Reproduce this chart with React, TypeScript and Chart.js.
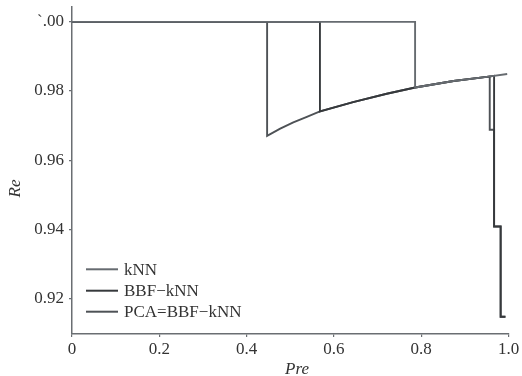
import React, { useEffect, useRef } from "react";
import { Chart, registerables } from "chart.js";

Chart.register(...registerables);

// Series: kNN
const knnPre = [0, 0.786, 0.786, 0.874, 0.95, 0.997];
const knnRe = [1.0, 1.0, 0.981, 0.9829, 0.9841, 0.9849];

// Series: BBF-kNN
const bbfPre = [0, 0.568, 0.568, 0.644, 0.721, 0.786, 0.874, 0.95, 0.967, 0.967, 0.982, 0.982, 0.993];
const bbfRe = [1.0, 1.0, 0.9741, 0.9768, 0.9792, 0.981, 0.9829, 0.9841, 0.9844, 0.9408, 0.9408, 0.9147, 0.9147];

// Series: PCA=BBF-kNN
const pcaPre = [0, 0.447, 0.447, 0.477, 0.507, 0.538, 0.568, 0.644, 0.721, 0.786, 0.874, 0.95, 0.957, 0.957, 0.967, 0.967, 0.982, 0.982, 0.993];
const pcaRe = [1.0, 1.0, 0.967, 0.9691, 0.9709, 0.9725, 0.9741, 0.9768, 0.9792, 0.981, 0.9829, 0.9841, 0.9842, 0.9688, 0.9688, 0.9408, 0.9408, 0.9147, 0.9147];

const seriesNames = ["kNN", "BBF\u2212kNN", "PCA=BBF\u2212kNN"];
const seriesColors = ["#666b70", "#36393c", "#4e5256"];

const xTickValues = [0, 0.2, 0.4, 0.6, 0.8, 1.0];
const xTickLabels = ["0", "0.2", "0.4", "0.6", "0.8", "1.0"];
const yTickValues = [0.92, 0.94, 0.96, 0.98, 1.0];
const yTickLabels = ["0.92", "0.94", "0.96", "0.98", "`.00"];

const xTitle = "Pre";
const yTitle = "Re";

const FONT = "'Liberation Serif', 'Times New Roman', serif";
const AXIS_COLOR = "#6a6e72";
const TEXT_COLOR = "#333333";

const toPoints = (xs: number[], ys: number[]) => xs.map((x, i) => ({ x, y: ys[i] }));

const overlayPlugin = {
  id: "overlay",
  afterDraw(chart: any) {
    const { ctx, chartArea } = chart;
    ctx.save();
    // legend (inside plot area, bottom-left)
    const lx = chartArea.left + 14;
    const rows = [chartArea.bottom - 64.7, chartArea.bottom - 43.3, chartArea.bottom - 22.3];
    chart.data.datasets.forEach((ds: any, i: number) => {
      const y = rows[i];
      ctx.strokeStyle = ds.borderColor;
      ctx.lineWidth = 2;
      ctx.beginPath();
      ctx.moveTo(lx, y);
      ctx.lineTo(lx + 32, y);
      ctx.stroke();
      ctx.fillStyle = TEXT_COLOR;
      ctx.font = `17px ${FONT}`;
      ctx.textAlign = "left";
      ctx.textBaseline = "middle";
      ctx.fillText(ds.label, lx + 38, y + 1);
    });
    // axis titles
    ctx.fillStyle = TEXT_COLOR;
    ctx.font = `italic 17px ${FONT}`;
    ctx.textAlign = "center";
    ctx.textBaseline = "alphabetic";
    ctx.fillText(xTitle, 297, 374);
    ctx.translate(20, 188.5);
    ctx.rotate(-Math.PI / 2);
    ctx.fillText(yTitle, 0, 0);
    ctx.restore();
  },
};

export default function App() {
  const ref = useRef<HTMLCanvasElement | null>(null);

  useEffect(() => {
    if (!ref.current) return;
    const chart = new Chart(ref.current, {
      type: "line",
      data: {
        datasets: [
          { label: seriesNames[0], data: toPoints(knnPre, knnRe) },
          { label: seriesNames[1], data: toPoints(bbfPre, bbfRe) },
          { label: seriesNames[2], data: toPoints(pcaPre, pcaRe) },
        ].map((d, i) => ({
          ...d,
          borderColor: seriesColors[i],
          backgroundColor: seriesColors[i],
          borderWidth: 1.9,
          pointRadius: 0,
          tension: 0,
          fill: false,
        })),
      },
      options: {
        responsive: false,
        animation: false,
        devicePixelRatio: 1,
        layout: { padding: { left: 0, top: 7, right: 13.5, bottom: 0 } },
        plugins: {
          legend: { display: false },
          tooltip: { enabled: false },
        },
        scales: {
          x: {
            type: "linear",
            min: 0,
            max: 1,
            afterBuildTicks: (s: any) => {
              s.ticks = xTickValues.map((v) => ({ value: v }));
            },
            afterFit: (s: any) => {
              s.height = 42;
              s.paddingLeft = 0;
              s.paddingRight = 0;
            },
            ticks: {
              color: TEXT_COLOR,
              font: { family: FONT, size: 17 },
              padding: 2,
              maxRotation: 0,
              autoSkip: false,
              callback: (v: any) => {
                const i = xTickValues.findIndex((t) => Math.abs(t - Number(v)) < 1e-9);
                return i >= 0 ? xTickLabels[i] : "";
              },
            },
            grid: {
              display: true,
              drawOnChartArea: false,
              drawTicks: true,
              tickLength: 3,
              color: AXIS_COLOR,
              lineWidth: 1.2,
            },
            border: { display: true, color: AXIS_COLOR, width: 1.5 },
          },
          y: {
            type: "linear",
            min: 0.9097,
            max: 1.0043,
            afterBuildTicks: (s: any) => {
              s.ticks = yTickValues.map((v) => ({ value: v }));
            },
            afterFit: (s: any) => {
              s.width = 72;
              s.paddingTop = 0;
              s.paddingBottom = 0;
            },
            ticks: {
              color: TEXT_COLOR,
              font: { family: FONT, size: 17 },
              padding: 5,
              autoSkip: false,
              callback: (v: any) => {
                const i = yTickValues.findIndex((t) => Math.abs(t - Number(v)) < 1e-9);
                return i >= 0 ? yTickLabels[i] : "";
              },
            },
            grid: {
              display: true,
              drawOnChartArea: false,
              drawTicks: true,
              tickLength: 3,
              color: AXIS_COLOR,
              lineWidth: 1.2,
            },
            border: { display: true, color: AXIS_COLOR, width: 1.5 },
          },
        },
      },
      plugins: [overlayPlugin],
    } as any);
    let alive = true;
    const fonts: any = (document as any).fonts;
    if (fonts && fonts.load) {
      Promise.all([
        fonts.load(`17px "Liberation Serif"`),
        fonts.load(`italic 17px "Liberation Serif"`),
      ])
        .then(() => {
          if (alive) chart.update();
        })
        .catch(() => {});
    }
    return () => {
      alive = false;
      chart.destroy();
    };
  }, []);

  return (
    <div style={{ position: "absolute", left: 0, top: 0, width: 522, height: 376, background: "#ffffff" }}>
      <canvas ref={ref} width={522} height={376} style={{ display: "block" }} />
    </div>
  );
}
